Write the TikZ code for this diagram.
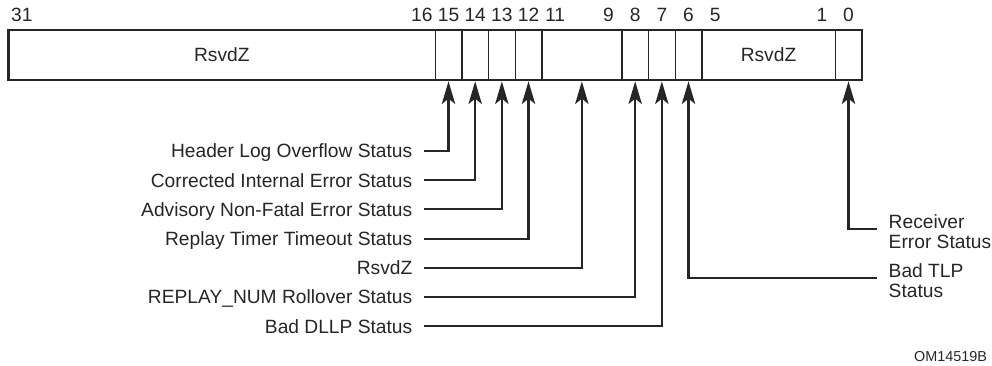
\documentclass[tikz,border=0pt]{standalone}
\usepackage{fontspec}
\setmainfont{Liberation Sans}
\usetikzlibrary{positioning, arrows.meta}

\begin{document}
\begin{tikzpicture}[x=0.75pt, y=-0.75pt, >={Stealth[length=17pt,width=10pt,inset=4pt]},
                    line width=1.6pt, color=black!85,
                    field/.style={draw, line width=1pt, minimum height=37.5pt,
                                  inner sep=0pt, outer sep=0pt,
                                  font=\fontsize{14.4}{15}\selectfont},
                    bitnum/.style={inner sep=0pt, text height=10.4pt, text depth=0pt,
                                   font=\fontsize{14.4}{15}\selectfont},
                    lbl/.style={inner xsep=8pt, inner ysep=0pt, text height=10.4pt,
                                text depth=0pt, font=\fontsize{14.4}{15}\selectfont},
                    rlbl/.style={inner xsep=8pt, inner ysep=0pt, align=left,
                                 font=\fontsize{14.4}{15}\selectfont},
                    sig/.style={->, line width=1.6pt, shorten >=1pt}]

    \useasboundingbox (0,0) rectangle (992,366);

    % ---------- register fields ----------
    \def\cw{20pt}   % one bit
    \node[field, minimum width=16*\cw, anchor=north west] (f31) at (8.5,30) {RsvdZ};
    \node[field, minimum width=\cw,   right=0pt of f31] (f15) {};
    \node[field, minimum width=\cw,   right=0pt of f15] (f14) {};
    \node[field, minimum width=\cw,   right=0pt of f14] (f13) {};
    \node[field, minimum width=\cw,   right=0pt of f13] (f12) {};
    \node[field, minimum width=3*\cw, right=0pt of f12] (f11) {};
    \node[field, minimum width=\cw,   right=0pt of f11] (f8) {};
    \node[field, minimum width=\cw,   right=0pt of f8]  (f7) {};
    \node[field, minimum width=\cw,   right=0pt of f7]  (f6) {};
    \node[field, minimum width=5*\cw, right=0pt of f6]  (f5) {RsvdZ};
    \node[field, minimum width=\cw,   right=0pt of f5]  (f0) {};
    \draw[line width=1.8pt] (f31.north west) rectangle (f0.south east);

    % ---------- bit numbers ----------
    \foreach \b in {31,16,15,14,13,12,11,9,8,7,6,5,1,0}
      \node[bitnum] (b\b) at ({8.5+(31.5-\b)*26.667},15) {\b};

    % ---------- status labels (left) ----------
    \foreach \nm/\txt/\fld [count=\i] in {hlo/Header Log Overflow Status/f15,
        cie/Corrected Internal Error Status/f14,
        anf/Advisory Non-Fatal Error Status/f13,
        rtt/Replay Timer Timeout Status/f12,
        rsv/RsvdZ/f11,
        rnr/REPLAY\_NUM Rollover Status/f8,
        dllp/Bad DLLP Status/f7}
    {
      \node[lbl, anchor=east] (\nm) at (424,{151+29.2*(\i-1)}) {\txt};
      \draw[sig] (\nm.east) -| (\fld.south);
    }

    % ---------- status labels (right) ----------
    \node[rlbl, anchor=west] (rcv) at (877,232) {Receiver\\Error Status};
    \draw[sig] ([yshift=2.5pt]rcv.west) -| (f0.south);
    \node[rlbl, anchor=west] (tlp) at (877,280.5) {Bad TLP\\Status};
    \draw[sig] ([yshift=2pt]tlp.west) -| (f6.south);

    % ---------- figure number ----------
    \node[anchor=east, inner sep=0pt, text height=7.8pt, text depth=0pt,
          font=\fontsize{10.8}{12}\selectfont] (fig) at (988,356) {OM14519B};

  \end{tikzpicture}
\end{document}
